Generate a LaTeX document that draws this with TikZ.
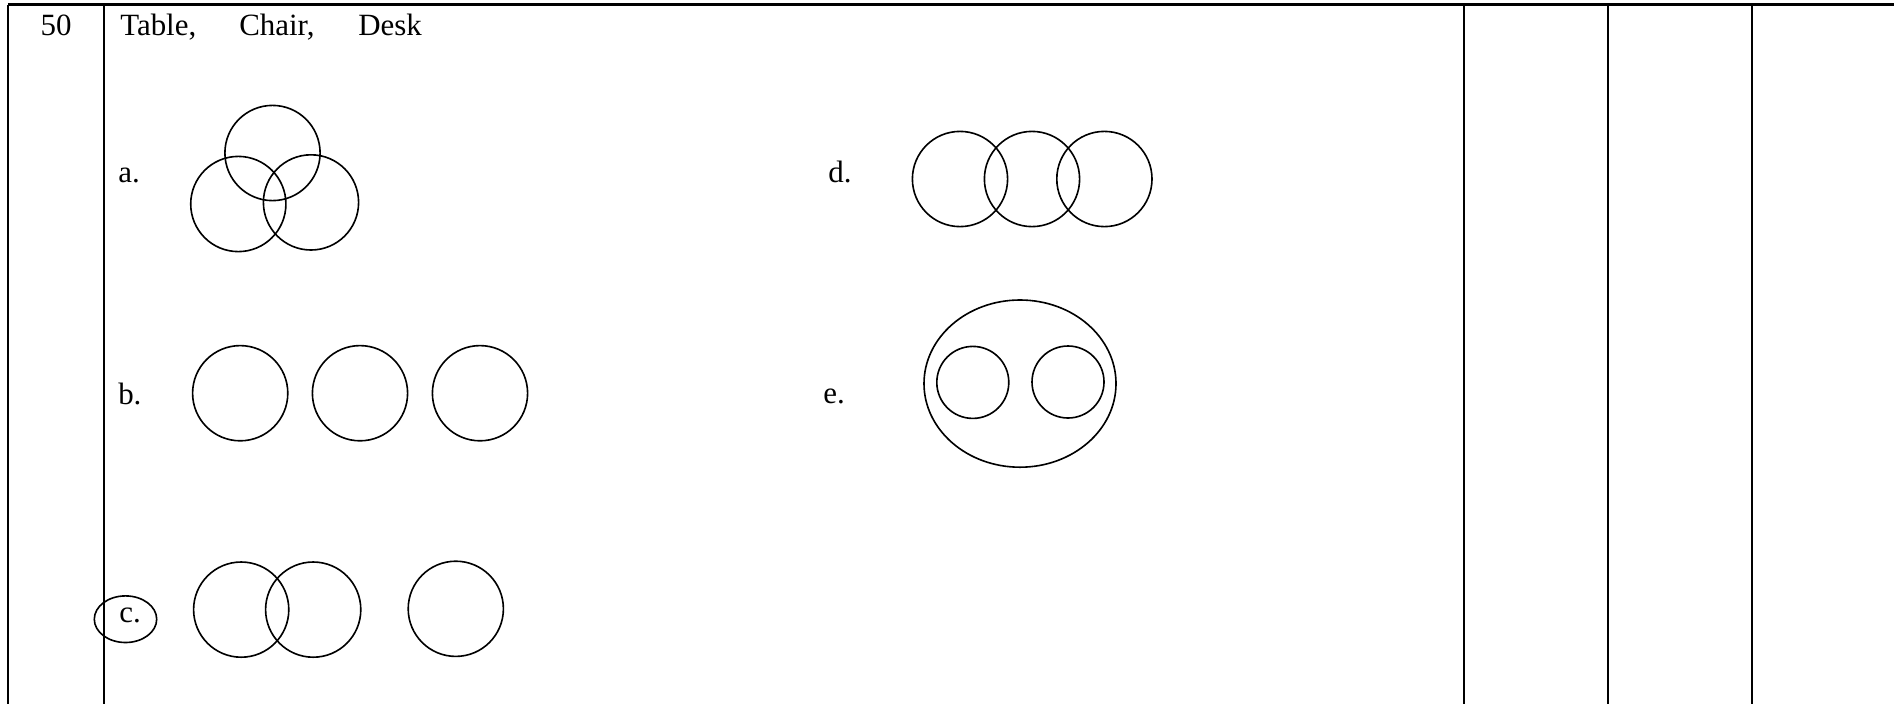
\documentclass[tikz,border=0pt]{standalone}
\usepackage{fontspec}
\setmainfont{Liberation Serif}
\usepackage{tikz}
\usetikzlibrary{positioning}

\begin{document}
\begin{tikzpicture}
        % Question row with Venn diagram options
        \tikzset{
          rule/.style={black, line width=1.6pt},
          ring/.style={black, line width=1.15pt},
          txt/.style={font=\fontsize{22}{26}\selectfont, anchor=base west, inner sep=0}
        }
        \useasboundingbox (0,0) rectangle (47.35,-17.6);

        % Table lines
        \draw[rule] (0.2,-0.1125) -- (47.35,-0.1125);
        \foreach \x in {0.2, 2.6, 36.6, 40.2, 43.8}
          \draw[rule] (\x,-0.1125) -- (\x,-17.6);

        % Header
        \node[txt, anchor=base] (num) at (1.4,-0.875) {50};
        \node[txt] (table) at (3.0,-0.875) {Table,};
        \node[txt] (chair) at (5.975,-0.875) {Chair,};
        \node[txt] (desk) at (8.95,-0.875) {Desk};

        % Option labels
        \node[txt] (la) at (2.95,-4.55) {a.};
        \node[txt] (lb) at (2.95,-10.1) {b.};
        \node[txt] (lc) at (2.975,-15.57) {c.};
        \node[txt] (ld) at (20.7,-4.55) {d.};
        \node[txt] (le) at (20.575,-10.075) {e.};
        \draw[ring] (3.1375,-15.48) ellipse (0.78 and 0.5825);

        % a. three overlapping
        \draw[ring] (6.8125,-3.825) circle (1.19);
        \draw[ring] (5.958,-5.1) circle (1.19);
        \draw[ring] (7.775,-5.06) circle (1.19);

        % b. three apart
        \foreach \x in {6.005, 9.0, 12.0}
          \draw[ring] (\x,-9.83) circle (1.19);

        % c. two overlapping, one apart
        \draw[ring] (6.03,-15.24) circle (1.19);
        \draw[ring] (7.83,-15.24) circle (1.19);
        \draw[ring] (11.395,-15.22) circle (1.19);

        % d. chain of three
        \foreach \x in {24.0, 25.8, 27.61}
          \draw[ring] (\x,-4.475) circle (1.19);

        % e. two inside one
        \draw[ring] (25.5,-9.59) ellipse (2.4 and 2.09);
        \draw[ring] (24.32,-9.56) circle (0.9);
        \draw[ring] (26.7,-9.55) circle (0.9);
      \end{tikzpicture}
\end{document}
